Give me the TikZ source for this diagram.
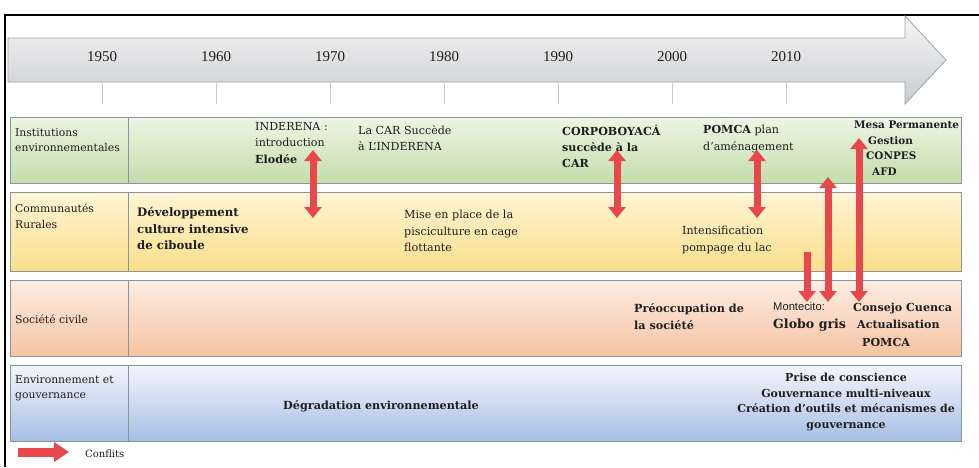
\documentclass[tikz,border=0pt]{standalone}
\usepackage{fontspec}
\setmainfont{DejaVu Serif}
\newfontfamily\yearfont{Liberation Serif}
\newfontfamily\montefont{Liberation Sans}
\usetikzlibrary{arrows.meta}
\definecolor{arrred}{HTML}{E8474B}
\definecolor{rowline}{HTML}{8A949A}
\definecolor{gA}{HTML}{EDF5E4}
\definecolor{gB}{HTML}{C2DDAA}
\definecolor{yA}{HTML}{FFF5D6}
\definecolor{yB}{HTML}{FADE8A}
\definecolor{pA}{HTML}{FDEDE4}
\definecolor{pB}{HTML}{F5C3A2}
\definecolor{bA}{HTML}{F2F6FC}
\definecolor{bB}{HTML}{A7BEE5}
\definecolor{tlA}{HTML}{F6F6F6}
\definecolor{tlB}{HTML}{C9CBCE}
\definecolor{tlline}{HTML}{9BA6B0}
\definecolor{txt}{HTML}{1E1E1E}
\tikzset{
  rowbox/.style={draw=rowline, line width=0.9pt, anchor=north west, inner sep=0pt, minimum width=951pt},
  lbl/.style={anchor=north west, inner sep=0pt, align=left, text=txt, font=\fontsize{11.1}{16.5}\selectfont},
  yr/.style={inner sep=0pt, text=txt, font=\yearfont\fontsize{15}{15}\selectfont},
  tick/.style={draw=gray!40, line width=0.4pt},
  confl/.style={draw=arrred, line width=7pt},
  tipb/.style={{Triangle[width=17pt,length=11pt]}-{Triangle[width=17pt,length=11pt]}},
  tipd/.style={-{Triangle[width=17pt,length=11pt]}},
}
\begin{document}
\begin{tikzpicture}[x=1pt,y=-1pt]
\useasboundingbox (0,0) rectangle (979,467);
\fill[white] (0,0) rectangle (979,467);
% frame
\draw[black, line width=1.1pt] (979,15) -- (5,15) -- (5,467);
% timeline arrow
\path[top color=tlA, bottom color=tlB, draw=tlline, line width=0.8pt]
  (8,38) -- (905,38) -- (905,16) -- (946,60) -- (905,104) -- (905,82) -- (8,82) -- cycle;
\foreach \yy/\xx in {1950/102,1960/216,1970/330,1980/444,1990/558,2000/672,2010/786}{
  \node[yr] (y\yy) at (\xx,57) {\yy};
  \draw[tick] (\xx,83) -- (\xx,104);
}
% rows
\node[rowbox, minimum height=66pt, top color=gA, bottom color=gB] (r1) at (10,117) {};
\node[rowbox, minimum height=79pt, top color=yA, bottom color=yB] (r2) at (10,192) {};
\node[rowbox, minimum height=76pt, top color=pA, bottom color=pB] (r3) at (10,280) {};
\node[rowbox, minimum height=76pt, top color=bA, bottom color=bB] (r4) at (10,365) {};
\foreach \r in {r1,r2,r3,r4}{
  \draw[rowline, line width=0.7pt] (\r.north west) ++(118,0) coordinate (t\r) -- (\r.south west -| t\r);
}
% row labels
\node[lbl, font=\fontsize{10.8}{15.5}\selectfont] (l1) at (15,128) {Institutions\\environnementales};
\node[lbl, font=\fontsize{10.8}{15.5}\selectfont] (l2) at (15,204) {Communautés\\Rurales};
\node[lbl, font=\fontsize{10.8}{15.5}\selectfont] (l3) at (15,315) {Société civile};
\node[lbl, font=\fontsize{10.8}{15.5}\selectfont] (l4) at (15,375) {Environnement et\\gouvernance};
% row 1
\node[lbl] (inderena) at (255,122) {INDERENA :\\introduction\\\textbf{Elodée}};
\node[lbl] (lacar) at (358,125) {La CAR Succède\\à L’INDERENA};
\node[lbl, font=\fontsize{11.1}{16}\selectfont\bfseries] (corpo) at (562,125) {CORPOBOYACÁ\\succède à la\\CAR};
\node[lbl] (pomca) at (703,125) {\textbf{POMCA} plan\\d’aménagement};
\node[lbl, font=\fontsize{10.4}{15.6}\selectfont\bfseries] (mesa) at (854,121) {Mesa Permanente\\\hspace*{14pt}Gestion\\\hspace*{12pt}CONPES\\\hspace*{18pt}AFD};
% row 2
\node[lbl, font=\fontsize{11.7}{16.5}\selectfont\bfseries] (dev) at (137,207) {Développement\\culture intensive\\de ciboule};
\node[lbl] (mise) at (404,210) {Mise en place de la\\pisciculture en cage\\flottante};
\node[lbl] (intens) at (682,226) {Intensification\\pompage du lac};
% row 3
\node[lbl, font=\fontsize{11.2}{17}\selectfont\bfseries] (preocc) at (634,303) {Préoccupation de\\la société};
\node[lbl, font=\montefont\fontsize{11.2}{18.5}\selectfont] (monte) at (773,302) {Montecito:\\{\rmfamily\fontsize{12.6}{14}\selectfont\bfseries Globo gris}};
\node[lbl, font=\fontsize{11.1}{17.3}\selectfont\bfseries] (consejo) at (853,303) {Consejo Cuenca\\\hspace*{4pt}Actualisation\\\hspace*{9pt}POMCA};
% row 4
\node[lbl, anchor=center, font=\fontsize{11.2}{16}\selectfont\bfseries] (degr) at (381,406) {Dégradation environnementale};
\node[lbl, anchor=center, align=center, font=\fontsize{11}{15.7}\selectfont\bfseries] (prise) at (846,402) {Prise de conscience\\Gouvernance multi-niveaux\\Création d’outils et mécanismes de\\gouvernance};
% conflict arrows
\coordinate (a1t) at (313,150); \coordinate (a1b) at (313,218);
\coordinate (a2t) at (617,150); \coordinate (a2b) at (617,218);
\coordinate (a3t) at (757,150); \coordinate (a3b) at (757,218);
\coordinate (a4t) at (807,252); \coordinate (a4b) at (807,302);
\coordinate (a5t) at (828,177); \coordinate (a5b) at (828,302);
\coordinate (a6t) at (859,138); \coordinate (a6b) at (859,302);
\draw[confl, tipb] (a1t) -- (a1b);
\draw[confl, tipb] (a2t) -- (a2b);
\draw[confl, tipb] (a3t) -- (a3b);
\draw[confl, tipd] (a4t) -- (a4b);
\draw[confl, tipb] (a5t) -- (a5b);
\draw[confl, tipb] (a6t) -- (a6b);
% legend
\coordinate (lgA) at (18,452); \coordinate (lgB) at (69,452);
\draw[draw=arrred, line width=9pt, -{Triangle[width=19pt,length=15pt]}] (lgA) -- (lgB);
\node[lbl, anchor=west, font=\fontsize{10}{12}\selectfont] (conf) at (85,454) {Conflits};
\end{tikzpicture}
\end{document}
